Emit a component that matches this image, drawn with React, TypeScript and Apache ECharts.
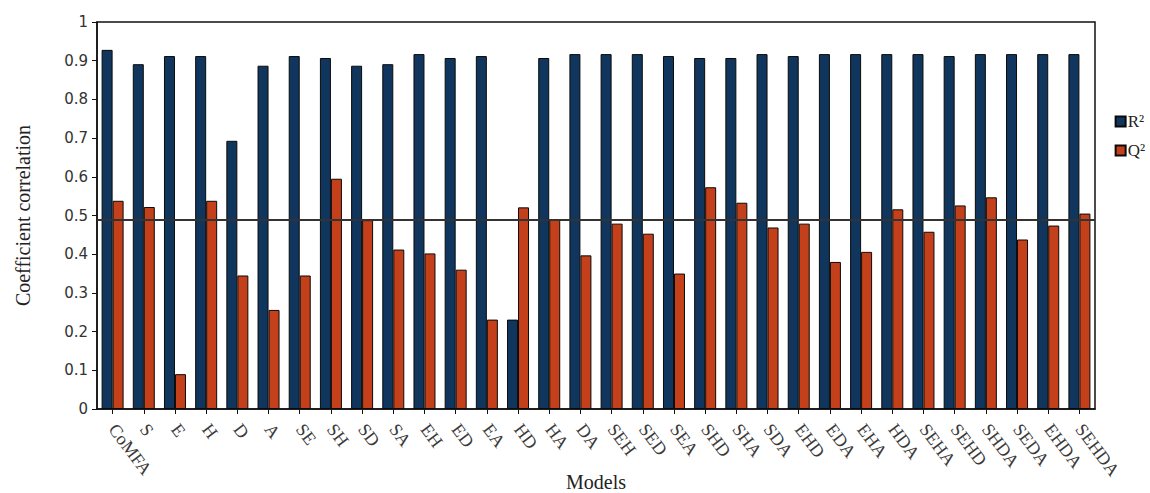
import React, { useEffect, useRef } from "react";
import * as echarts from "echarts";

const categories = [
  "CoMFA", "S", "E", "H", "D", "A", "SE", "SH", "SD", "SA", "EH", "ED", "EA", "HD", "HA", "DA",
  "SEH", "SED", "SEA", "SHD", "SHA", "SDA", "EHD", "EDA", "EHA", "HDA", "SEHA", "SEHD", "SHDA", "SEDA", "EHDA", "SEHDA",
];

const r2Values = [
  0.928, 0.891, 0.912, 0.912, 0.693, 0.887, 0.912, 0.907, 0.887, 0.891, 0.917, 0.907, 0.912, 0.231, 0.907, 0.917,
  0.917, 0.917, 0.912, 0.907, 0.907, 0.917, 0.912, 0.917, 0.917, 0.917, 0.917, 0.912, 0.917, 0.917, 0.917, 0.917,
];

const q2Values = [
  0.538, 0.522, 0.09, 0.538, 0.345, 0.256, 0.345, 0.595, 0.488, 0.412, 0.402, 0.36, 0.231, 0.521, 0.49, 0.397,
  0.479, 0.453, 0.35, 0.573, 0.533, 0.469, 0.479, 0.38, 0.406, 0.516, 0.458, 0.526, 0.547, 0.438, 0.474, 0.505,
];

const thresholdValue = 0.49;

export default function App() {
  const ref = useRef<HTMLDivElement>(null);

  useEffect(() => {
    if (!ref.current) return;
    const chart = echarts.init(ref.current, undefined, { renderer: "svg" });
    chart.setOption({
      animation: false,
      backgroundColor: "#ffffff",
      grid: {
        left: 97,
        right: 55,
        top: 22,
        bottom: 84,
        show: true,
        borderColor: "#111",
        borderWidth: 1.5,
        containLabel: false,
        outerBoundsMode: "none",
      },
      legend: {
        orient: "vertical",
        right: 0,
        top: 108,
        itemWidth: 10,
        itemHeight: 10,
        itemGap: 12,
        icon: "rect",
        textStyle: { fontFamily: "Liberation Serif", fontSize: 17, color: "#222", padding: [0, 0, 0, -3] },
        data: ["R²", "Q²"],
      },
      xAxis: {
        type: "category",
        data: categories,
        name: "Models",
        nameLocation: "middle",
        nameGap: 63,
        nameMoveOverlap: false,
        nameTextStyle: { fontFamily: "Liberation Serif", fontSize: 20, color: "#222" },
        axisLine: { show: true, lineStyle: { color: "#111", width: 1.5 } },
        axisTick: { show: true, alignWithLabel: true, length: 5, lineStyle: { color: "#111" } },
        axisLabel: {
          rotate: -53,
          interval: 0,
          fontFamily: "Liberation Serif",
          fontSize: 18,
          color: "#3a3a3a",
          margin: 17,
        },
      },
      yAxis: {
        type: "value",
        min: 0,
        max: 1,
        interval: 0.1,
        name: "Coefficient correlation",
        nameLocation: "middle",
        nameGap: 64,
        nameRotate: 90,
        nameMoveOverlap: false,
        nameTextStyle: { fontFamily: "Liberation Serif", fontSize: 20, color: "#222" },
        axisLine: { show: true, lineStyle: { color: "#111", width: 1.5 } },
        axisTick: { show: true, length: 5, lineStyle: { color: "#111" } },
        splitLine: { show: false },
        axisLabel: {
          fontFamily: "DejaVu Sans",
          fontSize: 15,
          color: "#333",
          margin: 9,
        },
      },
      series: [
        {
          name: "R²",
          type: "bar",
          data: r2Values,
          barWidth: 11,
          barGap: "0%",
          itemStyle: { color: "#11365e", borderColor: "#0a0a0a", borderWidth: 1 },
          markLine: {
            silent: true,
            symbol: "none",
            label: { show: false },
            lineStyle: { color: "#333", width: 2, type: "solid" },
            data: [{ yAxis: thresholdValue }],
          },
        },
        {
          name: "Q²",
          type: "bar",
          data: q2Values,
          barWidth: 11,
          itemStyle: { color: "#c4401a", borderColor: "#0a0a0a", borderWidth: 1 },
        },
      ],
    });
    return () => chart.dispose();
  }, []);

  return (
    <div
      ref={ref}
      style={{ position: "fixed", left: 0, top: 0, width: 1150, height: 493 }}
    />
  );
}
